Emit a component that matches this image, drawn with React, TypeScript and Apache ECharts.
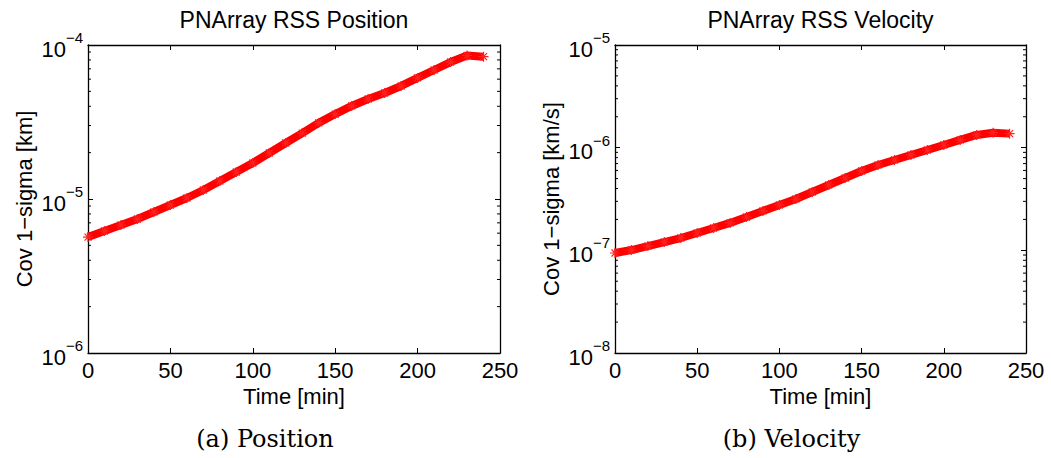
import React, { useEffect, useRef } from "react";
import * as echarts from "echarts";

const timeMin = [0, 10, 20, 30, 40, 50, 60, 70, 80, 90, 100, 110, 120, 130, 140, 150, 160, 170, 180, 190, 200, 210, 220, 230, 240];
const positionRss = [5.66e-6, 6.2e-6, 6.78e-6, 7.42e-6, 8.23e-6, 9.14e-6, 1.015e-5, 1.144e-5, 1.309e-5, 1.497e-5, 1.713e-5, 1.99e-5, 2.31e-5, 2.68e-5, 3.12e-5, 3.56e-5, 4.02e-5, 4.46e-5, 4.88e-5, 5.42e-5, 6.11e-5, 6.88e-5, 7.75e-5, 8.55e-5, 8.4e-5];
const velocityRss = [9.42e-8, 1.007e-7, 1.1e-7, 1.205e-7, 1.318e-7, 1.475e-7, 1.65e-7, 1.85e-7, 2.11e-7, 2.42e-7, 2.77e-7, 3.16e-7, 3.7e-7, 4.33e-7, 5.07e-7, 5.93e-7, 6.78e-7, 7.58e-7, 8.49e-7, 9.49e-7, 1.062e-6, 1.19e-6, 1.33e-6, 1.4e-6, 1.37e-6];

const titles = ["PNArray RSS Position", "PNArray RSS Velocity"];
const captions = ["(a) Position", "(b) Velocity"];
const yNames = ["Cov 1\u2212sigma [km]", "Cov 1\u2212sigma [km/s]"];
const xName = "Time [min]";
const xRange = [0, 250];
const yRanges = [
  [1e-6, 1e-4],
  [1e-8, 1e-5],
];
const minorMultipliers = [2, 3, 4, 5, 6, 7, 8, 9];

const FONT = "Liberation Sans, Arial, Helvetica, sans-serif";
const SERIF = "DejaVu Serif, serif";

const grids = [
  { left: 88, top: 45, width: 412, height: 308 },
  { left: 615, top: 45, width: 411, height: 308 },
];

function minorValues(range: number[]) {
  const out: number[][] = [];
  const e0 = Math.round(Math.log10(range[0]));
  const e1 = Math.round(Math.log10(range[1]));
  for (let e = e0; e < e1; e++) {
    for (const m of minorMultipliers) out.push([xRange[0], m * Math.pow(10, e)]);
  }
  return out;
}

const asterisk = "path://M5 0L5 10M0 5L10 5M1.5 1.5L8.5 8.5M1.5 8.5L8.5 1.5";

export default function App() {
  const ref = useRef<HTMLDivElement>(null);
  useEffect(() => {
    if (!ref.current) return;
    const chart = echarts.init(ref.current, undefined, { renderer: "svg" });
    const xAxes: any[] = [];
    const yAxes: any[] = [];
    const series: any[] = [];
    const seriesData = [positionRss, velocityRss];
    grids.forEach((g, i) => {
      const axisLine = { show: true, onZero: false, lineStyle: { color: "#000", width: 1.3 } };
      const tick = { show: true, inside: true, length: 5, lineStyle: { color: "#000", width: 1 } };
      xAxes.push({
        type: "value",
        gridIndex: i,
        position: "bottom",
        min: xRange[0],
        max: xRange[1],
        interval: 50,
        axisLine,
        axisTick: tick,
        axisLabel: { color: "#000", fontSize: 22, fontFamily: FONT, margin: 6 },
        splitLine: { show: false },
        name: xName,
        nameLocation: "middle",
        nameGap: 30,
        nameTextStyle: { color: "#000", fontSize: 22, fontFamily: FONT },
      });
      xAxes.push({
        type: "value",
        gridIndex: i,
        position: "top",
        min: xRange[0],
        max: xRange[1],
        interval: 50,
        axisLine,
        axisTick: tick,
        axisLabel: { show: false },
        splitLine: { show: false },
      });
      const label = {
        color: "#000",
        fontFamily: FONT,
        margin: 5,
        formatter: (v: number) => {
          const e = Math.round(Math.log10(v));
          return `{e| }{b|10}{s|${e < 0 ? "\u2212" : ""}${Math.abs(e)}}`;
        },
        rich: {
          e: { fontSize: 1, lineHeight: 30, fontFamily: FONT },
          b: { fontSize: 22, lineHeight: 22, verticalAlign: "bottom", fontFamily: FONT, color: "#000" },
          s: { fontSize: 15, lineHeight: 15, verticalAlign: "top", fontFamily: FONT, color: "#000" },
        },
      };
      yAxes.push({
        type: "log",
        logBase: 10,
        gridIndex: i,
        position: "left",
        min: yRanges[i][0],
        max: yRanges[i][1],
        axisLine,
        axisTick: tick,
        axisLabel: label,
        splitLine: { show: false },
        name: yNames[i],
        nameLocation: "middle",
        nameGap: 53,
        nameRotate: 90,
        nameTextStyle: { color: "#000", fontSize: 22, fontFamily: FONT },
      });
      yAxes.push({
        type: "log",
        logBase: 10,
        gridIndex: i,
        position: "right",
        min: yRanges[i][0],
        max: yRanges[i][1],
        axisLine,
        axisTick: tick,
        axisLabel: { show: false },
        splitLine: { show: false },
      });
      series.push({
        type: "custom",
        xAxisIndex: i * 2,
        yAxisIndex: i * 2,
        silent: true,
        clip: false,
        data: minorValues(yRanges[i]),
        renderItem: (params: any, api: any) => {
          const v = api.value(1);
          const a = api.coord([xRange[0], v]);
          const b = api.coord([xRange[1], v]);
          const style = { stroke: "#000", lineWidth: 1 };
          return {
            type: "group",
            children: [
              { type: "line", shape: { x1: a[0], y1: a[1], x2: a[0] + 3, y2: a[1] }, style },
              { type: "line", shape: { x1: b[0], y1: b[1], x2: b[0] - 3, y2: b[1] }, style },
            ],
          };
        },
        z: 1,
      });
      series.push({
        type: "line",
        xAxisIndex: i * 2,
        yAxisIndex: i * 2,
        data: timeMin.map((t, k) => [t, seriesData[i][k]]),
        lineStyle: { color: "#ff0000", width: 8 },
        symbol: asterisk,
        symbolSize: 10,
        showSymbol: true,
        itemStyle: { color: "#ff0000", borderColor: "#ff2020", borderWidth: 1.2 },
        z: 3,
      });
    });

    const graphic: any[] = [];
    grids.forEach((g, i) => {
      graphic.push({
        type: "text",
        x: g.left + g.width / 2,
        y: 20,
        style: { text: titles[i], fill: "#000", font: `23px ${FONT}`, textAlign: "center", textVerticalAlign: "middle" },
      });
      graphic.push({
        type: "text",
        x: g.left + g.width / 2 - 29,
        y: 439,
        style: { text: captions[i], fill: "#000", font: `24px ${SERIF}`, textAlign: "center", textVerticalAlign: "middle" },
      });
    });

    chart.setOption({
      animation: false,
      backgroundColor: "#fff",
      grid: grids.map((g) => ({ ...g, containLabel: false })),
      xAxis: xAxes,
      yAxis: yAxes,
      series,
      graphic,
    });
    return () => chart.dispose();
  }, []);
  return <div ref={ref} style={{ position: "absolute", left: 0, top: 0, width: 1051, height: 458 }} />;
}
